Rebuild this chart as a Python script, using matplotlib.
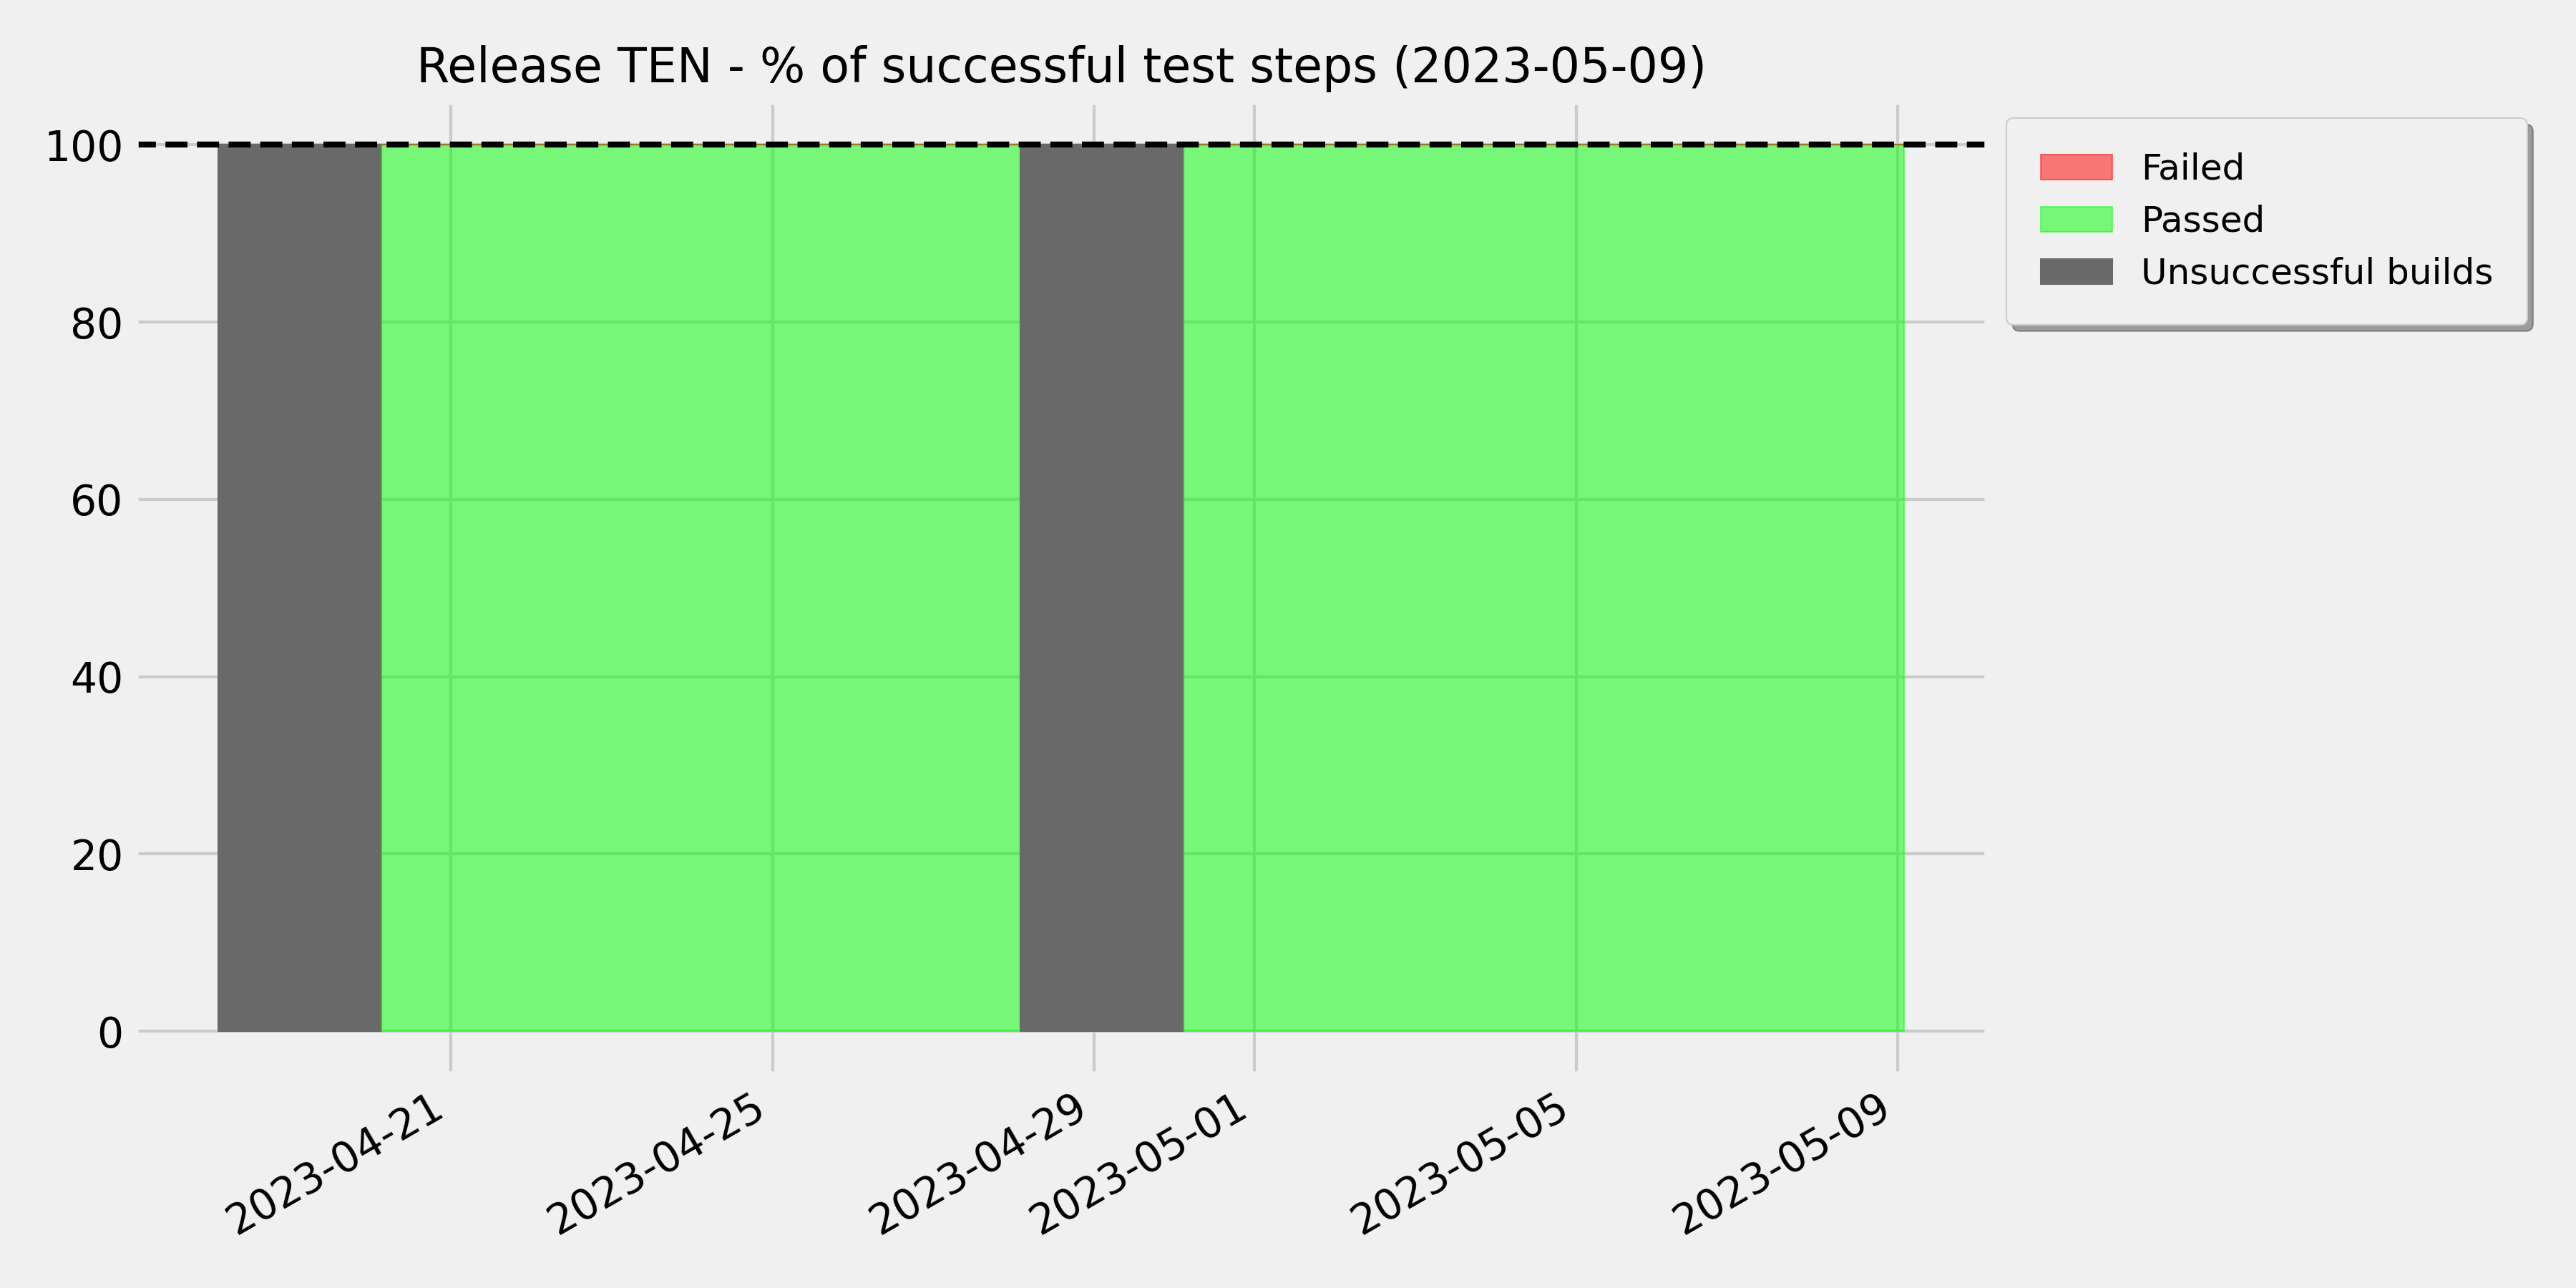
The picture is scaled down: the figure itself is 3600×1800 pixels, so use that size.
import matplotlib
matplotlib.use("Agg")
import matplotlib.pyplot as plt
import matplotlib.dates as mdates
import matplotlib.patches as mpatches
import pandas as pd

plt.style.use("fivethirtyeight")

# builds of release TEN (timestamps)
build_dates = pd.to_datetime([
    "2023-04-18 02:30",
    "2023-04-20 03:15",
    "2023-04-28 02:00",
    "2023-04-30 02:40",
    "2023-05-09 02:00",
])
build_ok = [False, True, False, True, True]
passed_pct = [0, 100, 0, 100, 100]
failed_pct = [0, 0, 0, 0, 0]

fig, ax = plt.subplots(figsize=(12, 6), dpi=300)

for i in range(len(build_dates) - 1):
    x = [build_dates[i], build_dates[i + 1]]
    if build_ok[i]:
        ax.fill_between(x, 0, passed_pct[i], color="lime", alpha=0.5)
        ax.fill_between(x, passed_pct[i], passed_pct[i] + failed_pct[i],
                        color="red", alpha=0.5)
    else:
        ax.fill_between(x, 0, 100, color="dimgray")

ax.axhline(100, color="black", linestyle="--", linewidth=2)

ax.xaxis.set_major_formatter(mdates.DateFormatter("%Y-%m-%d"))
plt.setp(ax.get_xticklabels(), rotation=30, ha="right", fontsize=14)
plt.setp(ax.get_yticklabels(), fontsize=14)
ax.set_title("Release TEN - % of successful test steps (2023-05-09)", fontsize=16)

handles = [
    mpatches.Patch(facecolor="red", edgecolor="red", alpha=0.5, label="Failed"),
    mpatches.Patch(facecolor="lime", edgecolor="lime", alpha=0.5, label="Passed"),
    mpatches.Patch(facecolor="dimgray", edgecolor="dimgray", label="Unsuccessful builds"),
]
ax.legend(handles=handles, loc="upper left", bbox_to_anchor=(1.0, 1.0),
          shadow=True, fancybox=True, fontsize=12, borderpad=0.95)

fig.subplots_adjust(left=0.052, right=0.772, top=0.922, bottom=0.165)
fig.savefig("out.png")
